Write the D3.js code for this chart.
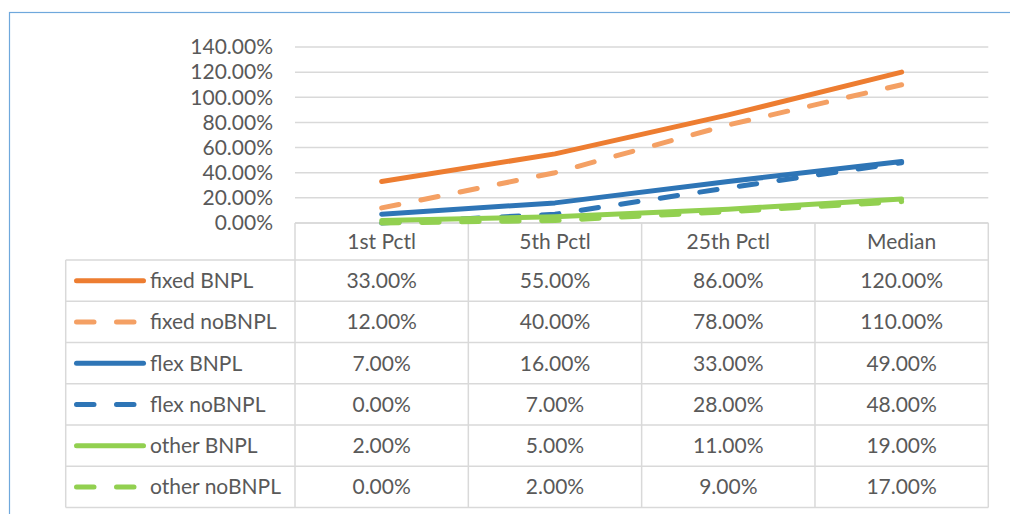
<!DOCTYPE html>
<html>
<head>
<meta charset="utf-8">
<script src="https://cdn.jsdelivr.net/npm/d3@7"></script>
<style>
  body { margin: 0; background: #fff; }
  svg { display: block; font-family: Lato, "Open Sans", sans-serif; }
  .lbl { fill: #595959; font-size: 21px; }
</style>
</head>
<body>
<script>
// categories along x
var categories = ["1st Pctl", "5th Pctl", "25th Pctl", "Median"];
// series names
var seriesNames = ["fixed BNPL", "fixed noBNPL", "flex BNPL", "flex noBNPL", "other BNPL", "other noBNPL"];
// values per series (fraction)
var fixedBNPL   = [0.33, 0.55, 0.86, 1.20];
var fixedNoBNPL = [0.12, 0.40, 0.78, 1.10];
var flexBNPL    = [0.07, 0.16, 0.33, 0.49];
var flexNoBNPL  = [0.00, 0.07, 0.28, 0.48];
var otherBNPL   = [0.02, 0.05, 0.11, 0.19];
var otherNoBNPL = [0.00, 0.02, 0.09, 0.17];
var yTicks = [0, 0.2, 0.4, 0.6, 0.8, 1.0, 1.2, 1.4];

var seriesValues = [fixedBNPL, fixedNoBNPL, flexBNPL, flexNoBNPL, otherBNPL, otherNoBNPL];
var seriesColors = ["#ed7d31", "#f4a064", "#2e75b6", "#2e75b6", "#92d050", "#92d050"];
var seriesDashed = [false, true, false, true, false, true];

var width = 1010, height = 514;
var plotLeft = 295, plotRight = 988.3;
var yTop = 47, yZero = 223;
var headerBottom = 260, rowH = 41.25;
var tableLeft = 65.7;

var svg = d3.select("body").append("svg")
    .attr("width", width)
    .attr("height", height);

// outer chart border (only top/left visible)
svg.append("rect")
    .attr("x", 9.5).attr("y", 12.5)
    .attr("width", 1100).attr("height", 600)
    .attr("fill", "none")
    .attr("stroke", "#6fa8dc")
    .attr("stroke-width", 1.2);

var x = d3.scaleBand().domain(categories).range([plotLeft, plotRight]);
var y = d3.scaleLinear().domain([0, 1.4]).range([yZero, yTop]);

// gridlines
svg.selectAll(".grid")
    .data(yTicks)
    .enter().append("line")
    .attr("class", "grid")
    .attr("x1", plotLeft).attr("x2", plotRight)
    .attr("y1", function(d){ return y(d); })
    .attr("y2", function(d){ return y(d); })
    .attr("stroke", "#d9d9d9")
    .attr("stroke-width", 1.5);

// y axis labels
var yAxis = d3.axisLeft(y).tickValues(yTicks)
    .tickFormat(d3.format(".2%")).tickSize(0).tickPadding(0);
var yg = svg.append("g").attr("transform", "translate(273,0)").call(yAxis);
yg.select(".domain").remove();
yg.selectAll("text").attr("class", "lbl").attr("fill", null).style("font-size", "21px")
    .style("font-family", "Lato, 'Open Sans', sans-serif");

// data table grid
var tableBottom = headerBottom + rowH * seriesNames.length;
var grid = svg.append("g").attr("stroke", "#d9d9d9").attr("stroke-width", 1.5).attr("fill", "none");
// vertical lines for data columns
var colEdges = categories.map(function(c){ return x(c); }).concat([plotRight]);
colEdges.forEach(function(cx){
    grid.append("line").attr("x1", cx).attr("x2", cx).attr("y1", yZero).attr("y2", tableBottom);
});
grid.append("line").attr("x1", tableLeft).attr("x2", tableLeft).attr("y1", headerBottom).attr("y2", tableBottom);
// horizontal lines
grid.append("line").attr("x1", plotLeft).attr("x2", plotRight).attr("y1", yZero).attr("y2", yZero);
d3.range(seriesNames.length + 1).forEach(function(i){
    var yy = headerBottom + i * rowH;
    grid.append("line").attr("x1", tableLeft).attr("x2", plotRight).attr("y1", yy).attr("y2", yy);
});

// header
svg.selectAll(".hdr")
    .data(categories)
    .enter().append("text")
    .attr("class", "lbl")
    .attr("x", function(d){ return x(d) + x.bandwidth() / 2; })
    .attr("y", (yZero + headerBottom) / 2)
    .attr("dy", "0.36em")
    .attr("text-anchor", "middle")
    .text(function(d){ return d; });

// rows
var pct = d3.format(".2%");
seriesNames.forEach(function(name, i){
    var cy = headerBottom + rowH * i + rowH / 2;
    var key = svg.append("line")
        .attr("x1", 74 + 2.5).attr("x2", 146 - 2.5)
        .attr("y1", cy).attr("y2", cy)
        .attr("stroke", seriesColors[i])
        .attr("stroke-width", 5)
        .attr("stroke-linecap", "round");
    if (seriesDashed[i]) key.attr("stroke-dasharray", "17.5,22.5");
    svg.append("text").attr("class", "lbl")
        .attr("x", 150).attr("y", cy).attr("dy", "0.36em")
        .text(name);
    svg.selectAll(".v" + i)
        .data(seriesValues[i])
        .enter().append("text")
        .attr("class", "lbl")
        .attr("x", function(d, j){ return x(categories[j]) + x.bandwidth() / 2; })
        .attr("y", cy).attr("dy", "0.36em")
        .attr("text-anchor", "middle")
        .text(function(d){ return pct(d); });
});

// series lines
var line = d3.line()
    .x(function(d, j){ return x(categories[j]) + x.bandwidth() / 2; })
    .y(function(d){ return y(d); });

seriesValues.forEach(function(vals, i){
    var p = svg.append("path")
        .datum(vals)
        .attr("d", line)
        .attr("fill", "none")
        .attr("stroke", seriesColors[i])
        .attr("stroke-width", 5)
        .attr("stroke-linecap", "round")
        .attr("stroke-linejoin", "round");
    if (seriesDashed[i]) p.attr("stroke-dasharray", "17.5,22.5");
});
</script>
</body>
</html>
